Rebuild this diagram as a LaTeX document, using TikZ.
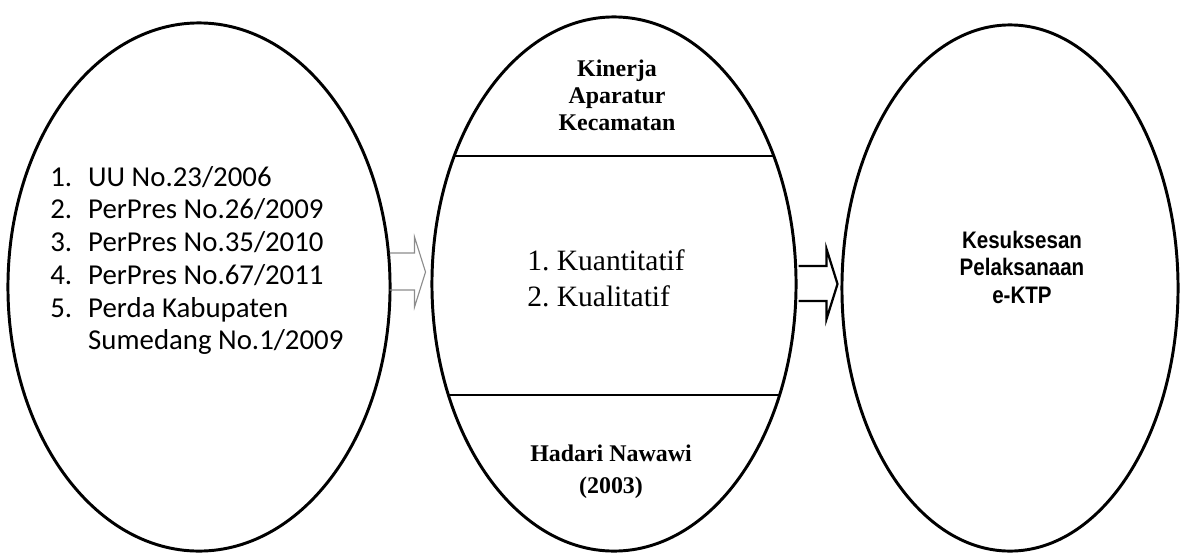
\documentclass[tikz,border=0pt]{standalone}
\usepackage{fontspec}
\setmainfont{Liberation Serif}
\newfontfamily\calibrifont{Carlito}
\newfontfamily\narrowsans[FakeStretch=0.86]{Liberation Sans}
\usetikzlibrary{shapes.geometric}
\frenchspacing

\begin{document}
\begin{tikzpicture}[x=0.025cm, y=-0.025cm,
  oval/.style={draw, ellipse, line width=2.1pt, inner sep=0pt},
  hollow/.style={line width=0.8pt, black!45},
  solidarrow/.style={line width=1.6pt}]
\useasboundingbox (0,0) rectangle (1184,553);

\node[oval, minimum width=9.55cm, minimum height=13.2cm] (law) at (199,287) {};
\node[oval, minimum width=9.1cm, minimum height=13.35cm] (kin) at (614,284) {};
\node[oval, minimum width=8.4cm, minimum height=13.15cm] (suc) at (1010,288) {};

\draw[line width=1.4pt] ([shift={(-160,-128)}]kin.center) -- ++(320,0);
\draw[line width=1.4pt] ([shift={(-165.5,111)}]kin.center) -- ++(331,0);

\node[anchor=base west, inner sep=0pt, font=\calibrifont\fontsize{20.5}{23.3}\selectfont] (acts) at (50,186)
  {\begin{tabular}[t]{@{}l@{}}
   \makebox[27pt][l]{1.}UU No.23/2006\\
   \makebox[27pt][l]{2.}PerPres No.26/2009\\
   \makebox[27pt][l]{3.}PerPres No.35/2010\\
   \makebox[27pt][l]{4.}PerPres No.67/2011\\
   \makebox[27pt][l]{5.}Perda Kabupaten\\
   \makebox[27pt][l]{}Sumedang No.1/2009
   \end{tabular}};

\node[anchor=base, inner sep=0pt, font=\bfseries\fontsize{17}{19.3}\selectfont] (title) at (617,76)
  {\begin{tabular}[t]{@{}c@{}}Kinerja\\Aparatur\\Kecamatan\end{tabular}};
\node[anchor=base west, inner sep=0pt, font=\fontsize{21}{26}\selectfont] (kind) at (527,270)
  {\begin{tabular}[t]{@{}l@{}}1. Kuantitatif\\2. Kualitatif\end{tabular}};
\node[anchor=base, inner sep=0pt, font=\bfseries\fontsize{17}{23}\selectfont] (source) at (611,461)
  {\begin{tabular}[t]{@{}c@{}}Hadari Nawawi\\(2003)\end{tabular}};
\node[anchor=base, inner sep=0pt, font=\narrowsans\bfseries\fontsize{17}{19.9}\selectfont] (goal) at (1022,248)
  {\begin{tabular}[t]{@{}c@{}}Kesuksesan\\Pelaksanaan\\e-KTP\end{tabular}};

\draw[hollow] ([shift={(-2,-34)}]law.east) -- ++(25,0) -- ++(0,-16) -- ++(11,35)
  -- ++(-11,35) -- ++(0,-17) -- ++(-25,0);
\draw[solidarrow] ([shift={(1,-18)}]kin.east) -- ++(28,0) -- ++(0,-17) -- ++(11,35)
  -- ++(-11,35) -- ++(0,-18) -- ++(-28,0);
\end{tikzpicture}
\end{document}
